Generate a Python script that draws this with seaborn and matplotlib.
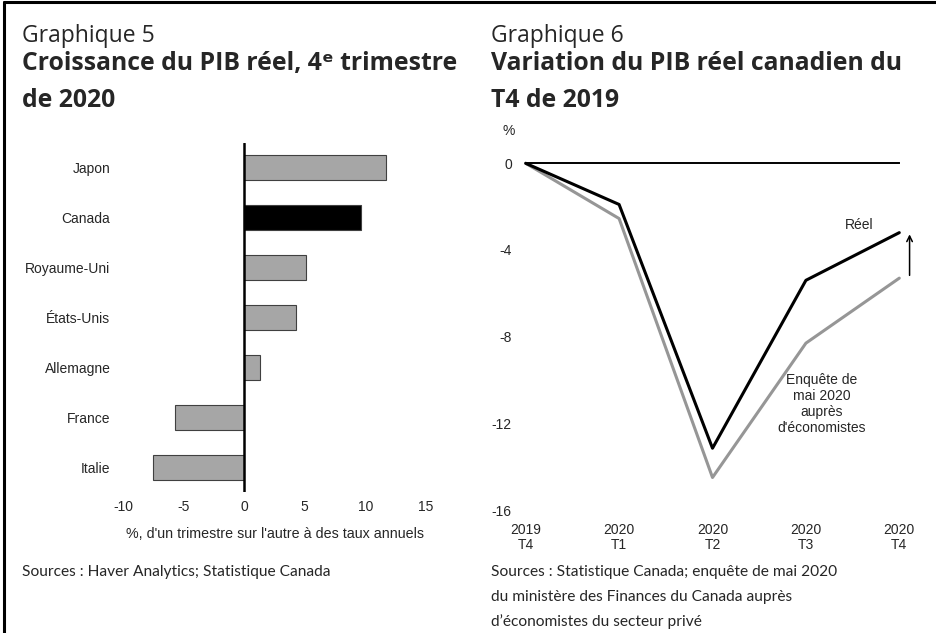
import matplotlib
matplotlib.use("Agg")
import matplotlib.pyplot as plt
import seaborn as sns
import pandas as pd
import numpy as np

# Graphique 5 data
countries = ["Japon", "Canada", "Royaume-Uni", "États-Unis", "Allemagne", "France", "Italie"]
growth = [11.7, 9.6, 5.1, 4.3, 1.3, -5.7, -7.5]
bar_colors = ["#a6a6a6", "#000000", "#a6a6a6", "#a6a6a6", "#a6a6a6", "#a6a6a6", "#a6a6a6"]

# Graphique 6 data
quarters = ["2019\nT4", "2020\nT1", "2020\nT2", "2020\nT3", "2020\nT4"]
reel = [0.0, -1.9, -13.15, -5.4, -3.2]
enquete = [0.0, -2.55, -14.5, -8.3, -5.3]

sns.set_style("white")
plt.rcParams["font.family"] = ["Liberation Sans", "DejaVu Sans"]
plt.rcParams["axes.unicode_minus"] = False
TITLE_FONT = ["Open Sans", "DejaVu Sans"]
NOTE_FONT = ["Lato", "DejaVu Sans"]

W, H = 937, 633
fig = plt.figure(figsize=(W / 100, H / 100), dpi=100)

# ---------- left chart ----------
ax1 = fig.add_axes([123 / W, 1 - 492 / H, (426 - 123) / W, (492 - 143) / H])
sns.barplot(x=growth, y=countries, hue=countries, palette=bar_colors, legend=False,
            orient="h", width=0.5, edgecolor="#404040", linewidth=0.8, ax=ax1)
ax1.set_xlim(-10, 15)
ax1.set_ylim(6.5, -0.5)
ax1.axvline(0, color="black", lw=1.8)
for s in ax1.spines.values():
    s.set_visible(False)
ax1.set_xticks([-10, -5, 0, 5, 10, 15])
ax1.tick_params(axis="both", length=0, labelsize=10)
ax1.tick_params(axis="x", pad=6)
ax1.tick_params(axis="y", pad=9)
ax1.set_xlabel("%, d'un trimestre sur l'autre à des taux annuels", fontsize=10.3, labelpad=9)
ax1.set_ylabel("")

# ---------- right chart ----------
ax2 = fig.add_axes([525.7 / W, 1 - 510 / H, (899.3 - 525.7) / W, (510 - 163.3) / H])
df = pd.DataFrame({
    "q": list(range(len(quarters))) * 2,
    "val": reel + enquete,
    "serie": ["Réel"] * len(reel) + ["Enquête"] * len(enquete),
})
sns.lineplot(data=df, x="q", y="val", hue="serie", hue_order=["Enquête", "Réel"],
             palette={"Réel": "black", "Enquête": "#969696"}, linewidth=2.2,
             legend=False, ax=ax2)
for ln in ax2.lines:
    ln.set_clip_on(False)
ax2.set_xlim(0, 4)
ax2.set_ylim(-16, 0)
for s in ["top", "right", "left"]:
    ax2.spines[s].set_visible(False)
ax2.spines["bottom"].set_position(("data", 0))
ax2.spines["bottom"].set_linewidth(1.4)
ax2.spines["bottom"].set_color("black")
ax2.set_xticks(range(len(quarters)))
ax2.set_xticklabels([])
ax2.tick_params(axis="x", direction="inout", length=6, width=1.4, color="black")
ax2.set_yticks([0, -4, -8, -12, -16])
ax2.set_yticklabels(["0", "-4", "-8", "-12", "-16"])
ax2.tick_params(axis="y", length=0, pad=10, labelsize=10)
ax2.set_xlabel("")
ax2.set_ylabel("")
sec = ax2.secondary_xaxis("bottom")
sec.set_xticks(range(len(quarters)))
sec.set_xticklabels(quarters, fontsize=10, linespacing=1.1)
sec.tick_params(length=0, pad=9)
sec.spines["bottom"].set_visible(False)
ax2.text(-0.18, 1.48, "%", ha="center", va="center", fontsize=10, clip_on=False)
ax2.text(3.57, -2.85, "Réel", ha="center", va="center", fontsize=10)
ax2.text(3.17, -11.1, "Enquête de\nmai 2020\nauprès\nd'économistes", ha="center",
         va="center", fontsize=10, linespacing=1.2)
ax2.annotate("", xy=(4.11, -3.15), xytext=(4.11, -5.3),
             arrowprops=dict(arrowstyle="->", color="black", lw=1.1), annotation_clip=False)

# ---------- titles and sources ----------
def ftext(x, y, s, **kw):
    fig.text(x / W, 1 - y / H, s, va="baseline", **kw)

for x0, num, line1, line2 in [
    (22, "Graphique 5", "Croissance du PIB réel, 4ᵉ trimestre", "de 2020"),
    (491, "Graphique 6", "Variation du PIB réel canadien du", "T4 de 2019"),
]:
    ftext(x0, 42, num, family=TITLE_FONT, fontsize=16.5)
    ftext(x0, 70, line1, family=TITLE_FONT, fontsize=17.8, fontweight="bold")
    ftext(x0, 107, line2, family=TITLE_FONT, fontsize=17.8, fontweight="bold")

ftext(22, 576, "Sources : Haver Analytics; Statistique Canada", family=NOTE_FONT, fontsize=11.2)
src_lines = ["Sources : Statistique Canada; enquête de mai 2020",
             "du ministère des Finances du Canada auprès",
             "d’économistes du secteur privé"]
for i, line in enumerate(src_lines):
    ftext(491, 576 + 25 * i, line, family=NOTE_FONT, fontsize=11.2)

# frame: top and left borders
fig.add_artist(plt.Line2D([4 / W, 4 / W], [0, 1 - 2 / H], color="black", lw=2.2,
                          transform=fig.transFigure))
fig.add_artist(plt.Line2D([4 / W, 1], [1 - 2 / H, 1 - 2 / H], color="black", lw=2.2,
                          transform=fig.transFigure))

fig.savefig("out.png", dpi=100)
